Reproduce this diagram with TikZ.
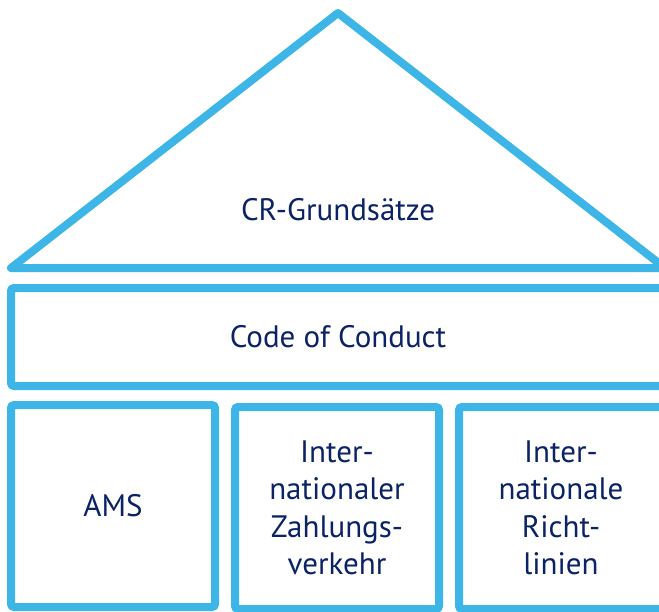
\documentclass[tikz,border=0pt]{standalone}
\usepackage{fontspec}
\setmainfont{PT Sans}
\definecolor{houseblue}{HTML}{3DB5E6}
\definecolor{textnavy}{HTML}{0B2265}
\tikzset{
  housetext/.style={text=textnavy, font=\fontsize{31}{37.5}\selectfont, align=center},
  roof/.style={draw=houseblue, line width=8pt, line join=round},
  beam/.style={draw=houseblue, line width=8pt, rounded corners=3pt, minimum width=654pt, minimum height=98pt, housetext},
  pillar/.style={draw=houseblue, line width=8pt, rounded corners=3pt, minimum width=204pt, minimum height=202pt, housetext},
}
\begin{document}
\begin{tikzpicture}[x=1pt,y=-1pt]

	\clip (0,0) rectangle (659,611);
	\fill[white] (0,0) rectangle (659,611);

	% roof
	\coordinate (top) at (338, 13);
	\coordinate (eaveleft) at (11, 268);
	\coordinate (eaveright) at (665, 268);
	\draw[roof] (top) -- (eaveleft) -- (eaveright) -- cycle;
	\node[housetext] (grund) at (338, 210) {CR-Grundsätze};

	% beam
	\node[beam] (code) at (338, 337) {Code of Conduct};

	% pillars
	\node[pillar] (ams) at (113, 506) {AMS};
	\node[pillar] (zahlung) at (337, 508) {Inter-\\nationaler\\Zahlungs-\\verkehr};
	\node[pillar] (richt) at (561, 508) {Inter-\\nationale\\Richt-\\linien};

\end{tikzpicture}
\end{document}
